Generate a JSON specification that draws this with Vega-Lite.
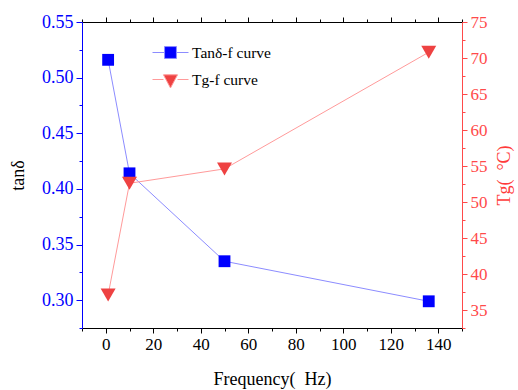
{
  "$schema": "https://vega.github.io/schema/vega-lite/v6.json",
  "autosize": "none",
  "width": 380,
  "height": 306,
  "padding": {"left": 82, "top": 22, "right": 56, "bottom": 62},
  "background": "white",
  "config": {
    "font": "Liberation Serif",
    "view": {"stroke": null},
    "axis": {
      "grid": false,
      "labelFont": "Liberation Serif",
      "titleFont": "Liberation Serif",
      "titleFontWeight": "normal",
      "domainWidth": 1,
      "tickWidth": 1
    }
  },
  "datasets": {
    "tan": [
      {"f": 1, "tan": 0.516},
      {"f": 10, "tan": 0.414},
      {"f": 50, "tan": 0.335},
      {"f": 136, "tan": 0.299}
    ],
    "tg": [
      {"f": 1, "tg": 37.1},
      {"f": 10, "tg": 52.6},
      {"f": 50, "tg": 54.6},
      {"f": 136, "tg": 70.8}
    ],
    "series": [
      {"series": "Tanδ-f curve"},
      {"series": "Tg-f curve"}
    ]
  },
  "layer": [
    {
      "data": {"name": "tan"},
      "mark": {"type": "line", "color": "#8C8CFF", "strokeWidth": 1},
      "encoding": {
        "x": {
          "field": "f", "type": "quantitative",
          "scale": {"domain": [-10, 150], "nice": false, "zero": false},
          "axis": {
            "orient": "bottom",
            "values": [0, 20, 40, 60, 80, 100, 120, 140],
            "tickSize": 5, "tickColor": "black", "domainColor": "black",
            "labelFont": "Liberation Serif",
            "labelColor": "black", "labelFontSize": 17, "labelPadding": 3,
            "title": "Frequency(\u2002Hz)", "titleColor": "black", "titleFontSize": 18, "titlePadding": 18
          }
        },
        "y": {
          "field": "tan", "type": "quantitative",
          "scale": {"domain": [0.275, 0.55], "nice": false, "zero": false},
          "axis": {
            "orient": "left",
            "values": [0.3, 0.35, 0.4, 0.45, 0.5, 0.55],
            "format": ".2f",
            "tickSize": 6, "tickColor": "#0000FF", "domainColor": "#0000FF",
            "labelFont": "Liberation Serif",
            "labelColor": "#0000FF", "labelFontSize": 18, "labelPadding": 3,
            "title": "tanδ", "titleColor": "black", "titleFontSize": 18, "titlePadding": 14
          }
        }
      }
    },
    {
      "data": {"name": "tg"},
      "mark": {"type": "line", "color": "#FF9A9A", "strokeWidth": 1},
      "encoding": {
        "x": {
          "field": "f", "type": "quantitative",
          "scale": {"domain": [-10, 150], "nice": false, "zero": false},
          "axis": {
            "orient": "top",
            "values": [0, 20, 40, 60, 80, 100, 120, 140],
            "labels": false, "tickSize": 5, "tickColor": "black", "domainColor": "black",
            "title": null
          }
        },
        "y": {
          "field": "tg", "type": "quantitative",
          "scale": {"domain": [32.5, 75], "nice": false, "zero": false},
          "axis": {
            "orient": "right",
            "values": [35, 40, 45, 50, 55, 60, 65, 70, 75],
            "tickSize": 5, "tickColor": "#FF4A4A", "domainColor": "#FF4A4A",
            "labelFont": "Liberation Serif",
            "labelColor": "#FF4A4A", "labelFontSize": 17, "labelPadding": 3,
            "title": "Tg(\u2002°C)", "titleColor": "#FF3A3A", "titleFontSize": 18,
            "titleAngle": -90, "titleBaseline": "top", "titlePadding": 8
          }
        }
      }
    },
    {
      "data": {"name": "tan"},
      "mark": {"type": "point", "shape": "square", "filled": true, "opacity": 1, "size": 140, "color": "#0000FF"},
      "encoding": {
        "x": {
          "field": "f", "type": "quantitative",
          "scale": {"domain": [-10, 150], "nice": false, "zero": false},
          "axis": {
            "orient": "bottom",
            "values": [-10, 10, 30, 50, 70, 90, 110, 130, 150],
            "labels": false, "domain": false, "tickSize": 3, "tickColor": "black", "title": null
          }
        },
        "y": {
          "field": "tan", "type": "quantitative",
          "scale": {"domain": [0.275, 0.55], "nice": false, "zero": false},
          "axis": {
            "orient": "left",
            "values": [0.275, 0.325, 0.375, 0.425, 0.475, 0.525],
            "labels": false, "domain": false, "tickSize": 3, "tickColor": "#0000FF", "title": null
          }
        }
      }
    },
    {
      "data": {"name": "tg"},
      "mark": {"type": "point", "shape": "triangle-down", "filled": true, "opacity": 1, "size": 225, "color": "#EE4242"},
      "encoding": {
        "x": {
          "field": "f", "type": "quantitative",
          "scale": {"domain": [-10, 150], "nice": false, "zero": false},
          "axis": {
            "orient": "top",
            "values": [-10, 10, 30, 50, 70, 90, 110, 130, 150],
            "labels": false, "domain": false, "tickSize": 3, "tickColor": "black", "title": null
          }
        },
        "y": {
          "field": "tg", "type": "quantitative",
          "scale": {"domain": [32.5, 75], "nice": false, "zero": false},
          "axis": {
            "orient": "right",
            "values": [32.5, 37.5, 42.5, 47.5, 52.5, 57.5, 62.5, 67.5, 72.5],
            "labels": false, "domain": false, "tickSize": 3, "tickColor": "#FF4A4A", "title": null
          }
        }
      }
    },
    {
      "data": {"name": "series"},
      "mark": {"type": "point", "filled": true, "opacity": 0, "size": 1296},
      "encoding": {
        "shape": {
          "field": "series", "type": "nominal",
          "scale": {
            "domain": ["Tanδ-f curve", "Tg-f curve"],
            "range": [
              "M-1,0H-0.34M0.34,0H1M-0.33,-0.33H0.33V0.33H-0.33Z",
              "M-1,0H-0.39M0.39,0H1M-0.39,-0.26H0.39L0,0.47Z"
            ]
          },
          "legend": {
            "orient": "none", "legendX": 70, "legendY": 12,
            "title": null, "padding": 0,
            "symbolSize": 1296, "symbolOpacity": 1, "symbolStrokeWidth": 1,
            "rowPadding": -22, "labelOffset": 3,
            "labelFont": "Liberation Serif", "labelFontSize": 15.5, "labelColor": "black"
          }
        },
        "fill": {
          "field": "series", "type": "nominal",
          "scale": {"domain": ["Tanδ-f curve", "Tg-f curve"], "range": ["#0000FF", "#EE4242"]},
          "legend": {
            "orient": "none", "legendX": 70, "legendY": 12,
            "title": null, "padding": 0,
            "symbolSize": 1296, "symbolOpacity": 1, "symbolStrokeWidth": 1,
            "rowPadding": -22, "labelOffset": 3,
            "labelFont": "Liberation Serif", "labelFontSize": 15.5, "labelColor": "black"
          }
        },
        "stroke": {
          "field": "series", "type": "nominal",
          "scale": {"domain": ["Tanδ-f curve", "Tg-f curve"], "range": ["#8C8CFF", "#FF9A9A"]},
          "legend": {
            "orient": "none", "legendX": 70, "legendY": 12,
            "title": null, "padding": 0,
            "symbolSize": 1296, "symbolOpacity": 1, "symbolStrokeWidth": 1,
            "rowPadding": -22, "labelOffset": 3,
            "labelFont": "Liberation Serif", "labelFontSize": 15.5, "labelColor": "black"
          }
        }
      }
    }
  ],
  "resolve": {
    "scale": {"y": "independent"},
    "axis": {"x": "independent", "y": "independent"}
  }
}
